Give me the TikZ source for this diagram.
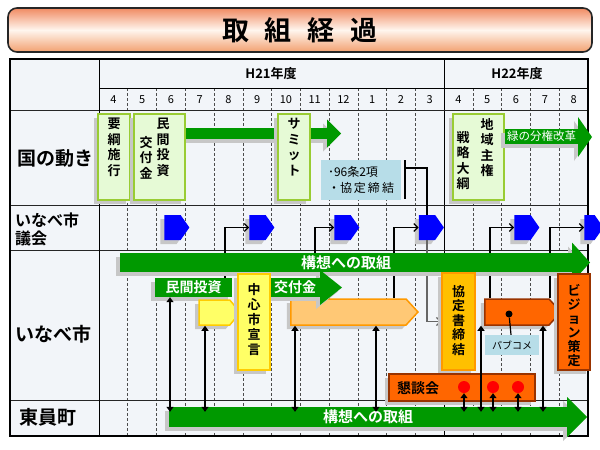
\documentclass[tikz,border=0pt]{standalone}
\usepackage{fontspec}
\setmainfont{Noto Sans CJK JP}[BoldFont={Noto Sans CJK JP Bold}]
\usetikzlibrary{arrows.meta,shapes.symbols,shadows}
\definecolor{barGreen}{HTML}{009900}
\definecolor{boxGreen}{HTML}{E6FAD6}
\definecolor{lineGreen}{HTML}{99CC33}
\definecolor{gikaiBlue}{HTML}{0000FF}
\definecolor{noteBlue}{HTML}{B7DDE8}
\definecolor{sengenYellow}{HTML}{FFFF66}
\definecolor{sengenLine}{HTML}{FFCC00}
\definecolor{kofuOrange}{HTML}{FFC875}
\definecolor{kofuLine}{HTML}{FF9900}
\definecolor{kyoteiGold}{HTML}{FFC000}
\definecolor{visionRed}{HTML}{FF6600}
\definecolor{visionLine}{HTML}{993300}
\definecolor{gridFill}{HTML}{F2F5F9}
\definecolor{titleTop}{HTML}{F08A62}
\definecolor{titleMid}{HTML}{FFF6EE}
\definecolor{titleBot}{HTML}{F2A070}
\pgfdeclarelayer{grid}
\pgfdeclarelayer{council}
\pgfdeclarelayer{under}
\pgfsetlayers{grid,council,under,main}

\tikzset{
  boxshadow/.style={drop shadow={shadow xshift=-4pt, shadow yshift=-4pt, fill=black!22, opacity=1}},
  kuni box/.style={draw=lineGreen, fill=boxGreen, line width=1.5pt, boxshadow, minimum width=32, minimum height=86, inner sep=0},
  vtext/.style={font=\fontsize{13}{15.5}\selectfont\bfseries, align=center, inner sep=0, anchor=north},
  gikai/.style={signal, signal to=east, signal pointer angle=110, fill=gikaiBlue, boxshadow, minimum width=25, minimum height=25, inner sep=0},
  bar/.style={fill=barGreen, boxshadow, inner sep=0, text=white, font=\fontsize{15}{15}\selectfont\bfseries},
  tall box/.style={line width=1.5pt, boxshadow, minimum width=32, minimum height=96, inner sep=0},
  pent/.style={signal, signal to=east, signal pointer angle=95, line width=1.5pt, boxshadow, minimum height=26, inner sep=0},
  link/.style={line width=1.2pt, -{Straight Barb[length=4pt,width=8pt]}},
  twoway/.style={line width=1.2pt, {Triangle[length=5pt,width=7pt]}-{Triangle[length=5pt,width=7pt]}, shorten >=-5pt},
  monthline/.style={densely dashed, black!70, line width=0.6pt},
  rowlabel/.style={font=\fontsize{19}{19}\selectfont\bfseries, inner sep=0},
  reddot/.style={circle, fill=red, minimum size=12, inner sep=0},
}

\begin{document}
\begin{tikzpicture}[x=1pt, y=-1pt]
  \useasboundingbox (0,0) rectangle (600,450);

  % title
  \node[rounded corners=9pt, draw=black!85, line width=1.6pt, top color=titleTop, bottom color=titleBot, middle color=titleMid,
        minimum width=584, minimum height=44, font=\fontsize{27}{27}\selectfont\bfseries] (title) at (300,30)
        {取\hspace{16pt}組\hspace{16pt}経\hspace{16pt}過};

  % table
  \begin{pgfonlayer}{grid}
    \fill[gridFill] (10,59) rectangle (588,436);
    \foreach \i in {1,...,11,13,14,15,16}
      \draw[monthline] ({99+28.76*\i},88) -- ({99+28.76*\i},436);
    \draw[line width=1pt] (444.1,59) -- (444.1,436);
    \draw[line width=0.8pt] (99,88) -- (588,88);
    \foreach \y in {110,205,250,400}
      \draw[line width=0.9pt, black!85] (10,\y) -- (588,\y);
    \draw[line width=1pt] (99,59) -- (99,436);
    \draw[line width=2pt] (10,59) rectangle (588,436);
    \foreach \m [count=\i from 0] in {4,5,6,7,8,9,10,11,12,1,2,3,4,5,6,7,8}
      \node[font=\fontsize{11}{11}\selectfont] (mon\i) at ({113.4+28.76*\i},100) {\m};
    \node[font=\fontsize{13}{13}\selectfont\bfseries] (h21) at (271,74) {H21年度};
    \node[font=\fontsize{13}{13}\selectfont\bfseries] (h22) at (517,74) {H22年度};
    \node[rowlabel] (kuni) at (55,158) {国の動き};
    \node[rowlabel, font=\fontsize{16}{18}\selectfont\bfseries, align=left, anchor=west] (gikai) at (15,229) {いなべ市\\議会};
    \node[rowlabel] (inabe) at (54,334) {いなべ市};
    \node[rowlabel] (toin) at (48,417) {東員町};
  \end{pgfonlayer}

  % 国の動き
  \fill[barGreen, boxshadow] (327,119.5) -- (341,133.5) -- (327,147.5) -- cycle;
  \node[bar, minimum width=142, minimum height=11] (kuniBar) at (256,133.5) {};
  \node[kuni box] (yoko) at (114,157) {};
  \node[vtext] (yokoT) at (114,118) {要\\綱\\施\\行};
  \node[kuni box, minimum width=51] (minkan) at (159.5,157) {};
  \node[vtext] (minkanR) at (163,118) {民\\間\\投\\資};
  \node[vtext] (minkanL) at (146,136) {交\\付\\金};
  \node[kuni box] (summit) at (294,157) {};
  \node[vtext] (summitT) at (294,118) {サ\\ミ\\ッ\\ト};
  \node[kuni box, minimum width=51] (chiiki) at (478.5,157) {};
  \node[vtext] (chiikiR) at (487,118) {地\\域\\主\\権};
  \node[vtext] (chiikiL) at (463,131) {戦\\略\\大\\綱};
  \fill[barGreen, boxshadow] (578,117) -- (592,137) -- (578,157) -- cycle;
  \node[bar, minimum width=73, minimum height=15, font=\fontsize{11.5}{11.5}\selectfont] (ryoku) at (541.5,136.5) {緑の分権改革};

  \node[fill=noteBlue, minimum width=80, minimum height=40, align=left, inner sep=0,
        font=\fontsize{12}{16}\selectfont] (jo96) at (361,180) {･96条2項\\・協\,定\,締\,結};
  \coordinate (brkTop) at (405,160);
  \coordinate (brkBot) at (405,199);
  \coordinate (brkMid) at (405,168);
  \draw[line width=1.5pt] (brkTop) -- (brkBot);

  % いなべ市議会
  \begin{pgfonlayer}{council}
    \foreach \n/\x in {1/172.5,2/257.5,3/342.5,4/427,5/522.5}
      \node[gikai] (gi\n) at (\x,227.5) {};
    \node[gikai, minimum width=19] (gi6) at (589.5,227.5) {};
  \end{pgfonlayer}

  % いなべ市
  \fill[barGreen, boxshadow] (572,242.5) -- (590,262.5) -- (572,282.5) -- cycle;
  \node[bar, minimum width=452, minimum height=19] (koso1) at (346,262.5) {構想への取組};
  \node[bar, minimum width=77, minimum height=19, font=\fontsize{14}{14}\selectfont\bfseries] (minkanB) at (193.5,287.5) {民間投資};
  \node[pent, fill=sengenYellow, draw=sengenLine, minimum width=41, minimum height=25, signal pointer angle=100] (yp) at (214.5,312.5) {};
  \node[pent, fill=kofuOrange, draw=kofuLine, minimum width=127] (op) at (348.5,312) {};
  \fill[barGreen, boxshadow] (320,270) -- (342,287.5) -- (320,305) -- cycle;
  \node[bar, minimum width=50, minimum height=19, font=\fontsize{14}{14}\selectfont\bfseries] (kofu) at (295,287.5) {交付金};
  \node[tall box, fill=sengenYellow, draw=sengenLine] (sengen) at (254,322) {};
  \node[vtext, font=\fontsize{13}{15}\selectfont\bfseries] (sengenT) at (254,283) {中\\心\\市\\宣\\言};
  \node[tall box, fill=kyoteiGold, draw=kofuLine, minimum width=33, minimum height=97] (kyotei) at (458.5,321.5) {};
  \node[vtext, font=\fontsize{13}{14.5}\selectfont\bfseries] (kyoteiT) at (458.5,285) {協\\定\\書\\締\\結};
  \node[pent, fill=visionRed, draw=visionLine, minimum width=76] (rp) at (517,312) {};
  \node[circle, fill=black, minimum size=7, inner sep=0] (pubdot) at (509,314) {};
  \node[fill=noteBlue, minimum width=54, minimum height=20, inner sep=0, font=\fontsize{10}{10}\selectfont] (pubcom) at (512,345) {パブコメ};
  \draw[line width=1.2pt] (pubdot) -- (pubcom);
  \node[tall box, fill=visionRed, draw=visionLine] (vision) at (574,322) {};
  \node[vtext, font=\fontsize{13}{14}\selectfont\bfseries] (visionT) at (574,284) {ビ\\ジ\\ョ\\ン\\策\\定};
  \node[fill=visionRed, draw=visionLine, line width=1.2pt, boxshadow, minimum width=146, minimum height=27] (kondan) at (462,387.5) {};
  \node[font=\fontsize{14}{14}\selectfont\bfseries, inner sep=0] (kondanT) at (418,388) {懇談会};
  \node[reddot] (rd1) at (464,387) {};
  \node[reddot] (rd2) at (493,387) {};
  \node[reddot] (rd3) at (518,387) {};

  % 東員町
  \fill[barGreen, boxshadow] (567,397) -- (587,417) -- (567,437) -- cycle;
  \node[bar, minimum width=398, minimum height=20] (koso2) at (368,417) {構想への取組};

  % links to the council
  \foreach \n/\x in {a/170,b/205,c/295,d/376,f/481,k/543,p/225,q/315,r/394,s/490,t/550}
    \coordinate (col\n) at (\x,0);
  \begin{pgfonlayer}{under}
    \draw[line width=1.2pt] (brkMid) -| (gi4.north);
    \draw[line width=1.2pt, -{Straight Barb[length=4pt,width=8pt]}, black!60] (gi4.south) |- (kyotei.west);
    \draw[link] (minkanB.north -| colp) |- (gi2.west);
    \draw[link] (koso1.north -| colq) |- (gi3.west);
    \draw[link] (op.north -| colr) |- (gi4.west);
    \draw[link] (rp.north -| cols) |- (gi5.west);
    \draw[link] (rp.north -| colt) |- (gi6.west);
  \end{pgfonlayer}

  % links to 東員町
  \draw[twoway] (minkanB.south -| cola) -- (koso2.north -| cola);
  \draw[twoway] (yp.south -| colb) -- (koso2.north -| colb);
  \draw[twoway] (op.south -| colc) -- (koso2.north -| colc);
  \draw[twoway] (op.south -| cold) -- (koso2.north -| cold);
  \draw[twoway] (rd1.south) -- (koso2.north -| rd1);
  \draw[twoway] (rp.south -| colf) -- (koso2.north -| colf);
  \draw[twoway] (rd2.south) -- (koso2.north -| rd2);
  \draw[twoway] (rd3.south) -- (koso2.north -| rd3);
  \draw[twoway] (rp.south -| colk) -- (koso2.north -| colk);
\end{tikzpicture}
\end{document}
